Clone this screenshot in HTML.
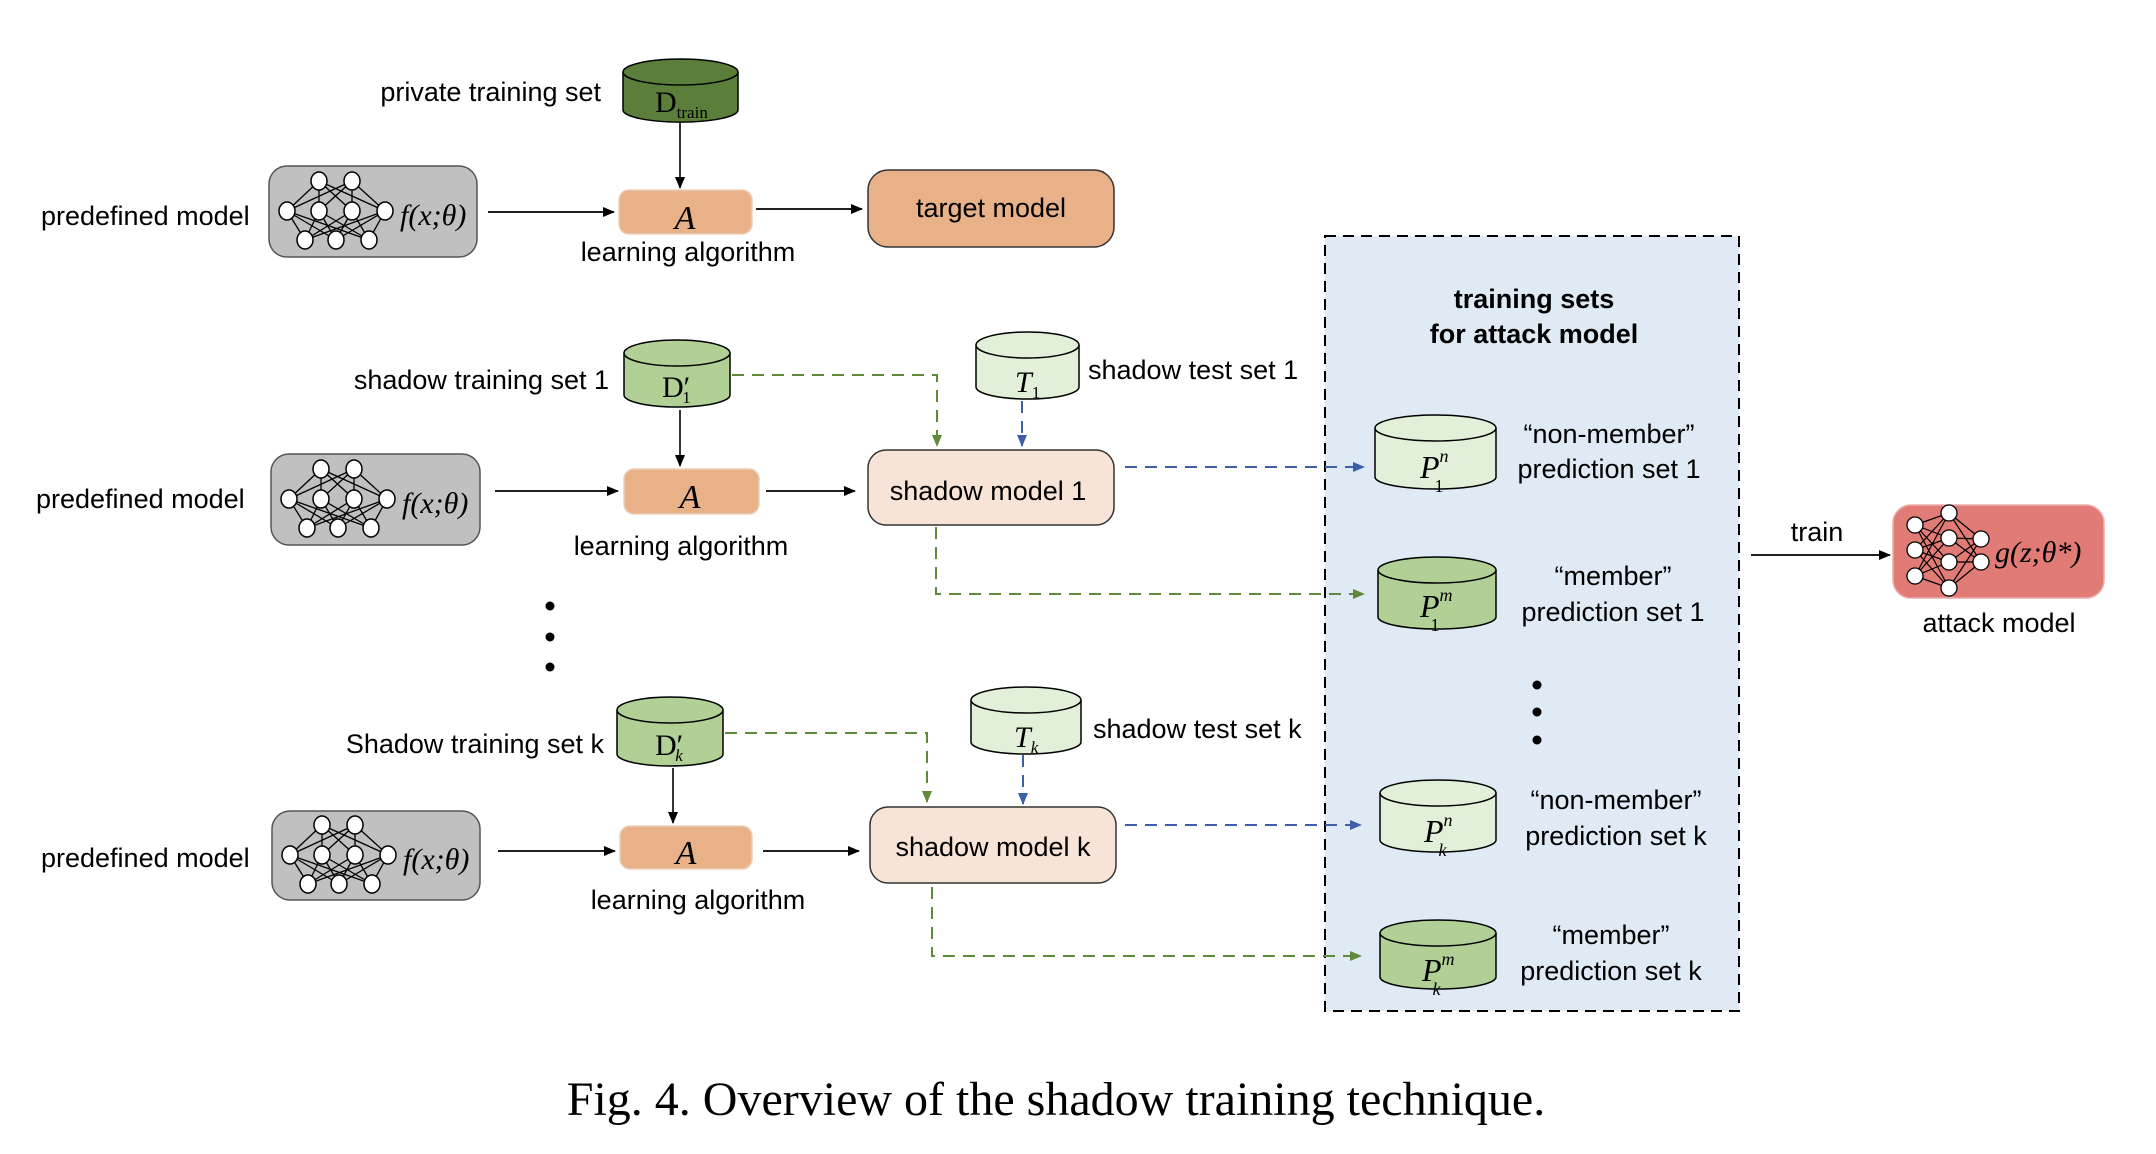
<!DOCTYPE html>
<html><head><meta charset="utf-8"><style>
html,body{margin:0;padding:0;background:#fff;}
svg{display:block;}
.l{font-family:"Liberation Sans",sans-serif;font-size:27px;fill:#000;}
.m{font-family:"Liberation Serif",serif;font-style:italic;fill:#000;}
.s{font-family:"Liberation Serif",serif;fill:#000;}
</style></head><body>
<svg width="2156" height="1154" viewBox="0 0 2156 1154" xmlns="http://www.w3.org/2000/svg">
<defs>
<marker id="ab" markerWidth="12" markerHeight="10" refX="11" refY="5" orient="auto" markerUnits="userSpaceOnUse"><path d="M0,0 L12,5 L0,10 Z" fill="#000"/></marker>
<marker id="ag" markerWidth="12" markerHeight="10" refX="11" refY="5" orient="auto" markerUnits="userSpaceOnUse"><path d="M0,0 L12,5 L0,10 Z" fill="#5f8a3a"/></marker>
<marker id="au" markerWidth="12" markerHeight="10" refX="11" refY="5" orient="auto" markerUnits="userSpaceOnUse"><path d="M0,0 L12,5 L0,10 Z" fill="#3d5ea8"/></marker>
<g id="net">
<g stroke="#000" stroke-width="1.3">
<line x1="49" y1="15" x2="17" y2="45"/><line x1="49" y1="15" x2="49" y2="45"/><line x1="49" y1="15" x2="82" y2="45"/><line x1="49" y1="15" x2="115" y2="45"/>
<line x1="82" y1="15" x2="17" y2="45"/><line x1="82" y1="15" x2="49" y2="45"/><line x1="82" y1="15" x2="82" y2="45"/><line x1="82" y1="15" x2="115" y2="45"/>
<line x1="17" y1="45" x2="35" y2="74"/><line x1="17" y1="45" x2="66" y2="74"/><line x1="17" y1="45" x2="99" y2="74"/>
<line x1="49" y1="45" x2="35" y2="74"/><line x1="49" y1="45" x2="66" y2="74"/><line x1="49" y1="45" x2="99" y2="74"/>
<line x1="82" y1="45" x2="35" y2="74"/><line x1="82" y1="45" x2="66" y2="74"/><line x1="82" y1="45" x2="99" y2="74"/>
<line x1="115" y1="45" x2="35" y2="74"/><line x1="115" y1="45" x2="66" y2="74"/><line x1="115" y1="45" x2="99" y2="74"/>
</g>
<g fill="#fff" stroke="#000" stroke-width="1.5">
<ellipse cx="49" cy="15" rx="8" ry="9"/><ellipse cx="82" cy="15" rx="8" ry="9"/>
<ellipse cx="17" cy="45" rx="8" ry="9"/><ellipse cx="49" cy="45" rx="8" ry="9"/><ellipse cx="82" cy="45" rx="8" ry="9"/><ellipse cx="115" cy="45" rx="8" ry="9"/>
<ellipse cx="35" cy="74" rx="8" ry="9"/><ellipse cx="66" cy="74" rx="8" ry="9"/><ellipse cx="99" cy="74" rx="8" ry="9"/>
</g>
</g>
</defs>

<!-- Attack training sets box (background) -->
<rect x="1325" y="236" width="414" height="775" fill="#dfeaf5" stroke="#000" stroke-width="2" stroke-dasharray="11,7"/>

<!-- Row 1 -->
<text class="l" x="601" y="101" text-anchor="end">private training set</text>
<path d="M623,72 v38 a57,12 0 0 0 115,0 v-38" fill="#5b7f3b" stroke="#000" stroke-width="1.5"/>
<ellipse cx="680.5" cy="72" rx="57.5" ry="13" fill="#5b7f3b" stroke="#000" stroke-width="1.5"/>
<text class="s" x="655" y="112" font-size="30">D<tspan font-size="17" dy="6">train</tspan></text>
<line x1="680" y1="123" x2="680" y2="188" stroke="#000" stroke-width="1.6" marker-end="url(#ab)"/>

<text class="l" x="41" y="225" font-size="28">predefined model</text>
<rect x="269" y="166" width="208" height="91" rx="18" fill="#c0c0c0" stroke="#555" stroke-width="1.5"/>
<use href="#net" x="270" y="166"/>
<text class="m" x="400" y="225" font-size="30">f(x;θ)</text>
<line x1="488" y1="212" x2="614" y2="212" stroke="#000" stroke-width="1.8" marker-end="url(#ab)"/>
<rect x="619" y="190" width="133" height="44" rx="10" fill="#e8b187" stroke="#eacfb8" stroke-width="1.5"/>
<text class="m" x="685" y="229" font-size="34" text-anchor="middle">A</text>
<text class="l" x="688" y="261" text-anchor="middle" font-size="28">learning algorithm</text>
<line x1="756" y1="209" x2="862" y2="209" stroke="#000" stroke-width="1.8" marker-end="url(#ab)"/>
<rect x="868" y="170" width="246" height="77" rx="20" fill="#e8b187" stroke="#333" stroke-width="1.5"/>
<text class="l" x="991" y="217" text-anchor="middle" font-size="28">target model</text>

<!-- Row 2 -->
<text class="l" x="609" y="389" text-anchor="end" font-size="28">shadow training set 1</text>
<path d="M624,353 v42 a53,12 0 0 0 106,0 v-42" fill="#b0d095" stroke="#000" stroke-width="1.5"/>
<ellipse cx="677" cy="353" rx="53" ry="13" fill="#b0d095" stroke="#000" stroke-width="1.5"/>
<text class="s" x="662" y="397" font-size="30">D′<tspan font-size="17" dx="-8" dy="6">1</tspan></text>
<path d="M976,345 v42 a51.5,12 0 0 0 103,0 v-42" fill="#e2efd9" stroke="#000" stroke-width="1.5"/>
<ellipse cx="1027.5" cy="345" rx="51.5" ry="13" fill="#e2efd9" stroke="#000" stroke-width="1.5"/>
<text class="m" x="1015" y="392" font-size="30">T<tspan font-size="17" font-style="normal" dy="6">1</tspan></text>
<text class="l" x="1088" y="379" font-size="28">shadow test set 1</text>
<line x1="680" y1="410" x2="680" y2="466" stroke="#000" stroke-width="1.6" marker-end="url(#ab)"/>

<text class="l" x="36" y="508" font-size="28">predefined model</text>
<rect x="271" y="454" width="209" height="91" rx="18" fill="#c0c0c0" stroke="#555" stroke-width="1.5"/>
<use href="#net" x="272" y="454"/>
<text class="m" x="402" y="513" font-size="30">f(x;θ)</text>
<line x1="495" y1="491" x2="618" y2="491" stroke="#000" stroke-width="1.8" marker-end="url(#ab)"/>
<rect x="624" y="469" width="135" height="45" rx="10" fill="#e8b187" stroke="#eacfb8" stroke-width="1.5"/>
<text class="m" x="690" y="508" font-size="34" text-anchor="middle">A</text>
<text class="l" x="681" y="555" text-anchor="middle" font-size="28">learning algorithm</text>
<line x1="766" y1="491" x2="855" y2="491" stroke="#000" stroke-width="1.8" marker-end="url(#ab)"/>
<rect x="868" y="450" width="246" height="75" rx="18" fill="#f8e4d6" stroke="#333" stroke-width="1.5"/>
<text class="l" x="988" y="500" text-anchor="middle" font-size="28">shadow model 1</text>

<path d="M732,375 H937 V446" fill="none" stroke="#5f8a3a" stroke-width="2" stroke-dasharray="12,8" marker-end="url(#ag)"/>
<path d="M1022,401 V446" fill="none" stroke="#3d5ea8" stroke-width="2" stroke-dasharray="12,8" marker-end="url(#au)"/>
<path d="M1125,467 H1364" fill="none" stroke="#3d5ea8" stroke-width="2" stroke-dasharray="12,8" marker-end="url(#au)"/>
<path d="M936,527 V594 H1364" fill="none" stroke="#5f8a3a" stroke-width="2" stroke-dasharray="12,8" marker-end="url(#ag)"/>

<circle cx="550" cy="606" r="4.5" fill="#000"/><circle cx="550" cy="637" r="4.5" fill="#000"/><circle cx="550" cy="667" r="4.5" fill="#000"/>

<!-- Row k -->
<text class="l" x="604" y="753" text-anchor="end" font-size="28">Shadow training set k</text>
<path d="M617,710 v44 a53,12 0 0 0 106,0 v-44" fill="#b0d095" stroke="#000" stroke-width="1.5"/>
<ellipse cx="670" cy="710" rx="53" ry="13" fill="#b0d095" stroke="#000" stroke-width="1.5"/>
<text class="s" x="655" y="755" font-size="30">D′<tspan font-size="17" font-style="italic" dx="-8" dy="6">k</tspan></text>
<path d="M971,700 v42 a55,12 0 0 0 110,0 v-42" fill="#e2efd9" stroke="#000" stroke-width="1.5"/>
<ellipse cx="1026" cy="700" rx="55" ry="13" fill="#e2efd9" stroke="#000" stroke-width="1.5"/>
<text class="m" x="1014" y="747" font-size="30">T<tspan font-size="17" dy="6">k</tspan></text>
<text class="l" x="1093" y="738" font-size="28">shadow test set k</text>
<line x1="673" y1="768" x2="673" y2="823" stroke="#000" stroke-width="1.6" marker-end="url(#ab)"/>

<text class="l" x="41" y="867" font-size="28">predefined model</text>
<rect x="272" y="811" width="208" height="89" rx="18" fill="#c0c0c0" stroke="#555" stroke-width="1.5"/>
<use href="#net" x="273" y="810"/>
<text class="m" x="403" y="869" font-size="30">f(x;θ)</text>
<line x1="498" y1="851" x2="615" y2="851" stroke="#000" stroke-width="1.8" marker-end="url(#ab)"/>
<rect x="620" y="826" width="132" height="43" rx="10" fill="#e8b187" stroke="#eacfb8" stroke-width="1.5"/>
<text class="m" x="686" y="864" font-size="34" text-anchor="middle">A</text>
<text class="l" x="698" y="909" text-anchor="middle" font-size="28">learning algorithm</text>
<line x1="763" y1="851" x2="859" y2="851" stroke="#000" stroke-width="1.8" marker-end="url(#ab)"/>
<rect x="870" y="807" width="246" height="76" rx="18" fill="#f8e4d6" stroke="#333" stroke-width="1.5"/>
<text class="l" x="993" y="856" text-anchor="middle" font-size="28">shadow model k</text>

<path d="M725,733 H927 V802" fill="none" stroke="#5f8a3a" stroke-width="2" stroke-dasharray="12,8" marker-end="url(#ag)"/>
<path d="M1023,755 V804" fill="none" stroke="#3d5ea8" stroke-width="2" stroke-dasharray="12,8" marker-end="url(#au)"/>
<path d="M1125,825 H1361" fill="none" stroke="#3d5ea8" stroke-width="2" stroke-dasharray="12,8" marker-end="url(#au)"/>
<path d="M932,887 V956 H1361" fill="none" stroke="#5f8a3a" stroke-width="2" stroke-dasharray="12,8" marker-end="url(#ag)"/>

<text class="l" x="1534" y="308" text-anchor="middle" font-weight="bold" font-size="26">training sets</text>
<text class="l" x="1534" y="343" text-anchor="middle" font-weight="bold" font-size="26">for attack model</text>

<path d="M1375,428 v49 a60.5,12 0 0 0 121,0 v-49" fill="#e2efd9" stroke="#000" stroke-width="1.5"/>
<ellipse cx="1435.5" cy="428" rx="60.5" ry="13" fill="#e2efd9" stroke="#000" stroke-width="1.5"/>
<text class="m" x="1420" y="478" font-size="32">P<tspan font-size="18" dy="-16">n</tspan><tspan font-size="18" font-style="normal" dx="-14" dy="30">1</tspan></text>
<text class="l" x="1609" y="443" text-anchor="middle" font-size="28">“non-member”</text>
<text class="l" x="1609" y="478" text-anchor="middle" font-size="28">prediction set 1</text>

<path d="M1378,570 v47 a59,12 0 0 0 118,0 v-47" fill="#b0d095" stroke="#000" stroke-width="1.5"/>
<ellipse cx="1437" cy="570" rx="59" ry="13" fill="#b0d095" stroke="#000" stroke-width="1.5"/>
<text class="m" x="1420" y="617" font-size="32">P<tspan font-size="18" dy="-16">m</tspan><tspan font-size="18" font-style="normal" dx="-22" dy="30">1</tspan></text>
<text class="l" x="1613" y="585" text-anchor="middle" font-size="28">“member”</text>
<text class="l" x="1613" y="621" text-anchor="middle" font-size="28">prediction set 1</text>

<circle cx="1537" cy="685" r="4.5" fill="#000"/><circle cx="1537" cy="712" r="4.5" fill="#000"/><circle cx="1537" cy="740" r="4.5" fill="#000"/>

<path d="M1380,793 v47 a58,12 0 0 0 116,0 v-47" fill="#e2efd9" stroke="#000" stroke-width="1.5"/>
<ellipse cx="1438" cy="793" rx="58" ry="13" fill="#e2efd9" stroke="#000" stroke-width="1.5"/>
<text class="m" x="1424" y="842" font-size="32">P<tspan font-size="18" dy="-16">n</tspan><tspan font-size="18" dx="-14" dy="30">k</tspan></text>
<text class="l" x="1616" y="809" text-anchor="middle" font-size="28">“non-member”</text>
<text class="l" x="1616" y="845" text-anchor="middle" font-size="28">prediction set k</text>

<path d="M1380,933 v44 a58,12 0 0 0 116,0 v-44" fill="#b0d095" stroke="#000" stroke-width="1.5"/>
<ellipse cx="1438" cy="933" rx="58" ry="13" fill="#b0d095" stroke="#000" stroke-width="1.5"/>
<text class="m" x="1422" y="981" font-size="32">P<tspan font-size="18" dy="-16">m</tspan><tspan font-size="18" dx="-22" dy="30">k</tspan></text>
<text class="l" x="1611" y="944" text-anchor="middle" font-size="28">“member”</text>
<text class="l" x="1611" y="980" text-anchor="middle" font-size="28">prediction set k</text>

<!-- attack model -->
<text class="l" x="1817" y="541" text-anchor="middle" font-size="28">train</text>
<line x1="1751" y1="555" x2="1890" y2="555" stroke="#000" stroke-width="1.8" marker-end="url(#ab)"/>
<rect x="1893" y="505" width="211" height="93" rx="18" fill="#e07b76" stroke="#eaa" stroke-width="1.5"/>
<g stroke="#000" stroke-width="1.2">
<line x1="1915" y1="525" x2="1949" y2="513"/><line x1="1915" y1="525" x2="1949" y2="538"/><line x1="1915" y1="525" x2="1949" y2="562"/><line x1="1915" y1="525" x2="1949" y2="588"/>
<line x1="1915" y1="550" x2="1949" y2="513"/><line x1="1915" y1="550" x2="1949" y2="538"/><line x1="1915" y1="550" x2="1949" y2="562"/><line x1="1915" y1="550" x2="1949" y2="588"/>
<line x1="1915" y1="576" x2="1949" y2="513"/><line x1="1915" y1="576" x2="1949" y2="538"/><line x1="1915" y1="576" x2="1949" y2="562"/><line x1="1915" y1="576" x2="1949" y2="588"/>
<line x1="1949" y1="513" x2="1981" y2="539"/><line x1="1949" y1="538" x2="1981" y2="539"/><line x1="1949" y1="562" x2="1981" y2="539"/><line x1="1949" y1="588" x2="1981" y2="539"/>
<line x1="1949" y1="513" x2="1981" y2="562"/><line x1="1949" y1="538" x2="1981" y2="562"/><line x1="1949" y1="562" x2="1981" y2="562"/><line x1="1949" y1="588" x2="1981" y2="562"/>
</g>
<g fill="#fff" stroke="#000" stroke-width="1.3">
<circle cx="1915" cy="525" r="8"/><circle cx="1915" cy="550" r="8"/><circle cx="1915" cy="576" r="8"/>
<circle cx="1949" cy="513" r="8"/><circle cx="1949" cy="538" r="8"/><circle cx="1949" cy="562" r="8"/><circle cx="1949" cy="588" r="8"/>
<circle cx="1981" cy="539" r="8"/><circle cx="1981" cy="562" r="8"/>
</g>
<text class="m" x="1995" y="562" font-size="30">g(z;θ*)</text>
<text class="l" x="1999" y="632" text-anchor="middle" font-size="28">attack model</text>

<!-- caption -->
<text class="s" x="1056" y="1115" text-anchor="middle" font-size="48">Fig. 4.  Overview of the shadow training technique.</text>
</svg>
</body></html>
